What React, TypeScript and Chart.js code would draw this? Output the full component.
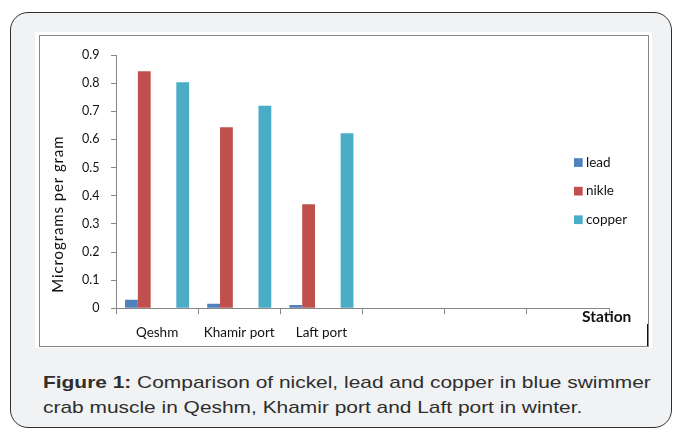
import React, { useEffect, useRef } from "react";
import { Chart, registerables } from "chart.js";

Chart.register(...registerables);

// ---- data ----
const stations = ["Qeshm", "Khamir port", "Laft port", "", "", ""];
const lead = [0.03, 0.016, 0.012, null, null, null];
const nikle = [0.842, 0.643, 0.37, null, null, null];
const copper = [0.803, 0.72, 0.622, null, null, null];
const emptySlot = [null, null, null, null, null, null];
const yTickValues = [0, 0.1, 0.2, 0.3, 0.4, 0.5, 0.6, 0.7, 0.8, 0.9];
const yTitle = "Micrograms per gram";
const xTitle = "Station";
const captionBold = "Figure 1:";
const captionLine1 = " Comparison of nickel, lead and copper in blue swimmer";
const captionLine2 = "crab muscle in Qeshm, Khamir port and Laft port in winter.";

const LEAD = "#4F81BD";
const NIKLE = "#C0504D";
const COPPER = "#4BACC6";
const AXIS = "#868686";
const FONT = "Lato";

const overlayPlugin = {
  id: "overlay",
  afterDraw(chart: any) {
    const ctx = chart.ctx as CanvasRenderingContext2D;
    const area = chart.chartArea;
    // y axis title
    ctx.save();
    ctx.fillStyle = "#111";
    ctx.font = `15px ${FONT}`;
    (ctx as any).letterSpacing = "0.9px";
    ctx.translate(23.5, (area.top + area.bottom) / 2 + 32.5);
    ctx.rotate(-Math.PI / 2);
    ctx.textAlign = "center";
    ctx.textBaseline = "alphabetic";
    ctx.fillText(yTitle, 0, 0);
    ctx.restore();

    // x axis title (right end, under the axis line)
    ctx.save();
    (ctx as any).letterSpacing = "0px";
    ctx.fillStyle = "#111";
    ctx.font = `bold 15.5px ${FONT}`;
    ctx.textAlign = "left";
    ctx.textBaseline = "alphabetic";
    ctx.fillText(xTitle, area.right - 27, area.bottom + 13.5);
    ctx.restore();

    // legend
    ctx.save();
    (ctx as any).letterSpacing = "0px";
    const items = chart.data.datasets.filter((d: any) => d.label);
    const x0 = 535;
    const yStart = 126.5;
    const step = 28.6;
    ctx.font = `13.5px ${FONT}`;
    ctx.textAlign = "left";
    ctx.textBaseline = "middle";
    items.forEach((d: any, i: number) => {
      const cy = yStart + i * step;
      ctx.fillStyle = d.backgroundColor;
      ctx.fillRect(x0, cy - 4.3, 8.7, 8.7);
      ctx.fillStyle = "#111";
      ctx.fillText(d.label, x0 + 12, cy);
    });
    ctx.restore();
  },
};

function ChartCanvas() {
  const ref = useRef<HTMLCanvasElement | null>(null);
  useEffect(() => {
    if (!ref.current) return;
    const chart = new Chart(ref.current, {
      type: "bar",
      data: {
        labels: stations,
        datasets: [
          { label: "lead", data: lead, backgroundColor: LEAD },
          { label: "nikle", data: nikle, backgroundColor: NIKLE },
          { label: "", data: emptySlot, backgroundColor: "rgba(0,0,0,0)" },
          { label: "", data: emptySlot, backgroundColor: "rgba(0,0,0,0)" },
          { label: "copper", data: copper, backgroundColor: COPPER },
        ] as any,
      },
      options: {
        animation: false,
        responsive: true,
        maintainAspectRatio: false,
        layout: { padding: { left: 0, top: 15.7, right: 39, bottom: 0 } },
        datasets: {
          bar: { categoryPercentage: 0.78, barPercentage: 1.0 },
        },
        plugins: {
          legend: { display: false },
          tooltip: { enabled: false },
          title: { display: false },
        },
        scales: {
          x: {
            offset: true,
            grid: {
              offset: true,
              drawOnChartArea: false,
              drawTicks: true,
              tickLength: 6,
              color: AXIS,
            },
            border: { display: true, color: AXIS, width: 1 },
            ticks: {
              color: "#111",
              font: { family: FONT, size: 13.5 },
              padding: 10,
              maxRotation: 0,
              autoSkip: false,
            },
            afterFit(scale: any) {
              scale.height = 37.7;
            },
          },
          y: {
            min: 0,
            max: 0.9,
            afterBuildTicks(scale: any) {
              scale.ticks = yTickValues.map((v) => ({ value: v }));
            },
            grid: {
              drawOnChartArea: false,
              drawTicks: true,
              tickLength: 5,
              color: AXIS,
            },
            border: { display: true, color: AXIS, width: 1 },
            ticks: {
              color: "#111",
              font: { family: FONT, size: 12.5 },
              padding: 11.5,
              callback: (v: any) => (Number(v) === 0 ? "0" : Number(v).toFixed(1)),
            },
            afterFit(scale: any) {
              scale.width = 77;
            },
          },
        },
      } as any,
      plugins: [overlayPlugin],
    });
    return () => chart.destroy();
  }, []);
  return <canvas ref={ref} />;
}

export default function App() {
  return (
    <div style={{ position: "absolute", left: 0, top: 0, width: 673, height: 430, background: "#fff", overflow: "hidden" }}>
      <div
        style={{
          position: "absolute",
          left: 9.5,
          top: 11.7,
          width: 662,
          height: 416.5,
          boxSizing: "border-box",
          border: "1.5px solid #2f2f2f",
          borderRadius: 18,
          background: "#F1F2F3",
        }}
      />
      <div style={{ position: "absolute", left: 35, top: 32.3, width: 616.5, height: 316, background: "#fff" }} />
      <div
        style={{
          position: "absolute",
          left: 38.5,
          top: 35,
          width: 610,
          height: 311.5,
          boxSizing: "border-box",
          border: `1px solid ${AXIS}`,
        }}
      />
      <div style={{ position: "absolute", left: 646.5, top: 324, width: 1.6, height: 22, background: "#111" }} />
      <div style={{ position: "absolute", left: 39, top: 36, width: 609, height: 310 }}>
        <ChartCanvas />
      </div>
      <div
        style={{
          position: "absolute",
          left: 43,
          top: 371,
          fontFamily: "'Liberation Sans', Arial, sans-serif",
          fontSize: 17,
          lineHeight: "24.6px",
          color: "#2e2e2e",
          whiteSpace: "nowrap",
          transform: "scaleX(1.23)",
          transformOrigin: "left top",
        }}
      >
        <b>{captionBold}</b>
        {captionLine1}
        <br />
        {captionLine2}
      </div>
    </div>
  );
}
